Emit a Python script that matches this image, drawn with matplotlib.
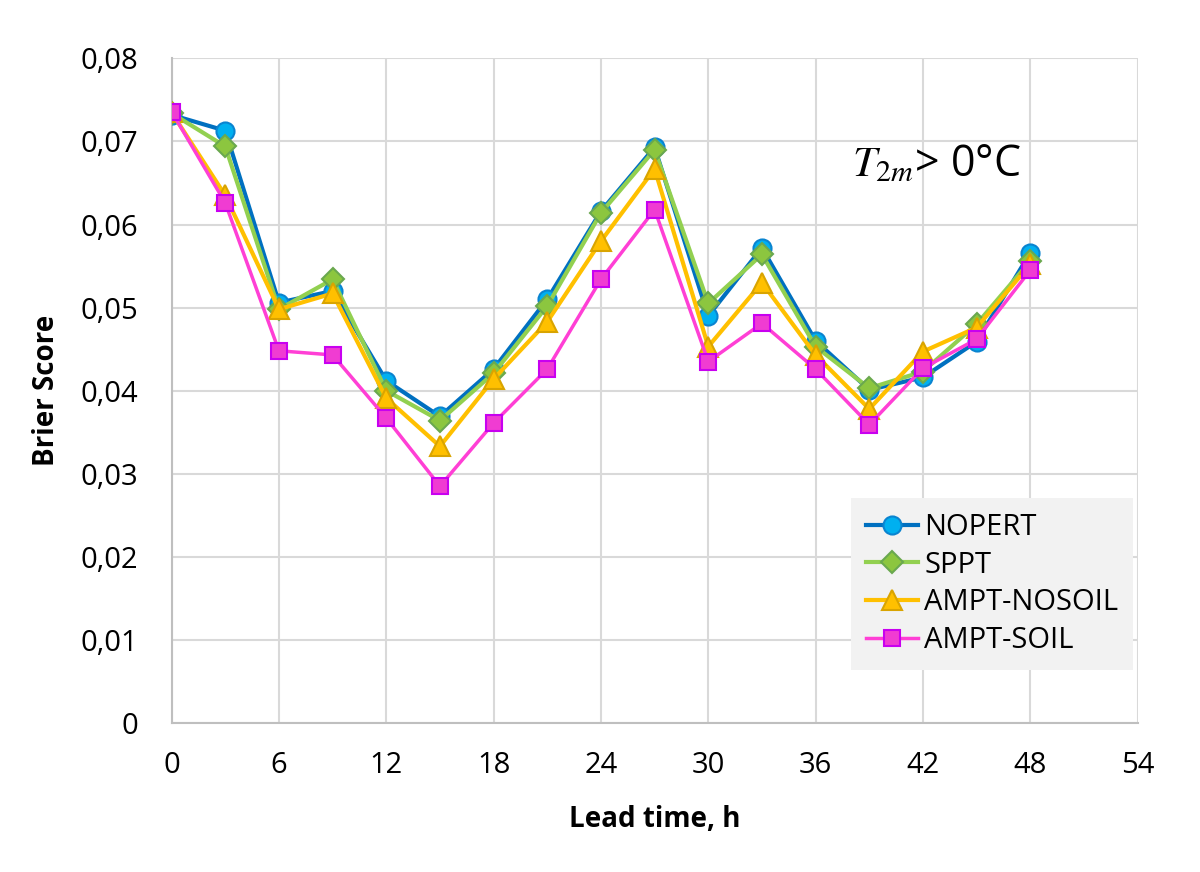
import matplotlib
matplotlib.use("Agg")
import matplotlib.pyplot as plt
from matplotlib.ticker import FuncFormatter

plt.rcParams["font.family"] = ["Open Sans", "DejaVu Sans"]
plt.rcParams["mathtext.fontset"] = "stix"

lead = [0, 3, 6, 9, 12, 15, 18, 21, 24, 27, 30, 33, 36, 39, 42, 45, 48]

nopert = [0.0732, 0.0713, 0.0506, 0.0520, 0.0412, 0.0369, 0.0426, 0.0510, 0.0616,
          0.0693, 0.0490, 0.0572, 0.0460, 0.0401, 0.0416, 0.0459, 0.0566]
sppt = [0.0734, 0.0694, 0.0498, 0.0534, 0.0400, 0.0364, 0.0421, 0.0502, 0.0614,
        0.0690, 0.0505, 0.0564, 0.0453, 0.0403, 0.0423, 0.0480, 0.0556]
ampt_nosoil = [0.0735, 0.0635, 0.0498, 0.0517, 0.0391, 0.0333, 0.0414, 0.0483, 0.0580,
               0.0667, 0.0453, 0.0530, 0.0443, 0.0378, 0.0447, 0.0476, 0.0552]
ampt_soil = [0.0736, 0.0626, 0.0448, 0.0443, 0.0367, 0.0285, 0.0361, 0.0426, 0.0534,
             0.0618, 0.0435, 0.0481, 0.0426, 0.0359, 0.0427, 0.0462, 0.0545]

fig = plt.figure(figsize=(12, 8.72), dpi=100)
ax = fig.add_axes([0.143, 0.171, 0.805, 0.762])

ax.plot(lead, nopert, color="#0070c0", lw=3, marker="o", ms=13,
        mfc="#00b0f0", mec="#0a84d0", mew=1.5, label="NOPERT", zorder=3)
ax.plot(lead, sppt, color="#92d050", lw=3, marker="D", ms=11,
        mfc="#8cc63f", mec="#6aa84f", mew=1.5, label="SPPT", zorder=4)
ax.plot(lead, ampt_nosoil, color="#ffc000", lw=3, marker="^", ms=15,
        mfc="#ffc000", mec="#d9a400", mew=1.5, label="AMPT-NOSOIL", zorder=5)
ax.plot(lead, ampt_soil, color="#ff3fd5", lw=2.5, marker="s", ms=12,
        mfc="#f03cd2", mec="#c800f0", mew=1.5, label="AMPT-SOIL", zorder=6)

ax.set_xlim(0, 54)
ax.set_ylim(0, 0.08)
ax.set_xticks(range(0, 55, 6))
ax.set_yticks([i * 0.01 for i in range(9)])
ax.yaxis.set_major_formatter(FuncFormatter(
    lambda v, p: "0" if abs(v) < 1e-9 else f"{v:.2f}".replace(".", ",")))
ax.grid(True, color="#d9d9d9", lw=1.5)
ax.set_axisbelow(True)
for s in ["top", "right"]:
    ax.spines[s].set_visible(False)
for s in ["left", "bottom"]:
    ax.spines[s].set_color("#bfbfbf")
    ax.spines[s].set_linewidth(1.5)
ax.tick_params(length=0, labelsize=21, colors="black")
ax.tick_params(axis="y", pad=24)
ax.tick_params(axis="x", pad=20)

ax.set_xlabel("Lead time, h", fontsize=20, fontweight="bold", labelpad=18)
ax.set_ylabel("Brier Score", fontsize=20, fontweight="bold", labelpad=14)

ax.text(0.792, 0.84, r"$T_{2m}$> 0°C", transform=ax.transAxes, fontsize=31,
        ha="center", va="center")

leg = ax.legend(loc="lower right", bbox_to_anchor=(0.995, 0.08), fontsize=21,
                frameon=True, fancybox=False, handlelength=1.8, borderpad=0.5,
                labelspacing=0.3, handletextpad=0.2, borderaxespad=0)
leg.get_frame().set_facecolor("#f2f2f2")
leg.get_frame().set_edgecolor("none")
leg.get_frame().set_alpha(1)

fig.savefig("out.png", dpi=100)
